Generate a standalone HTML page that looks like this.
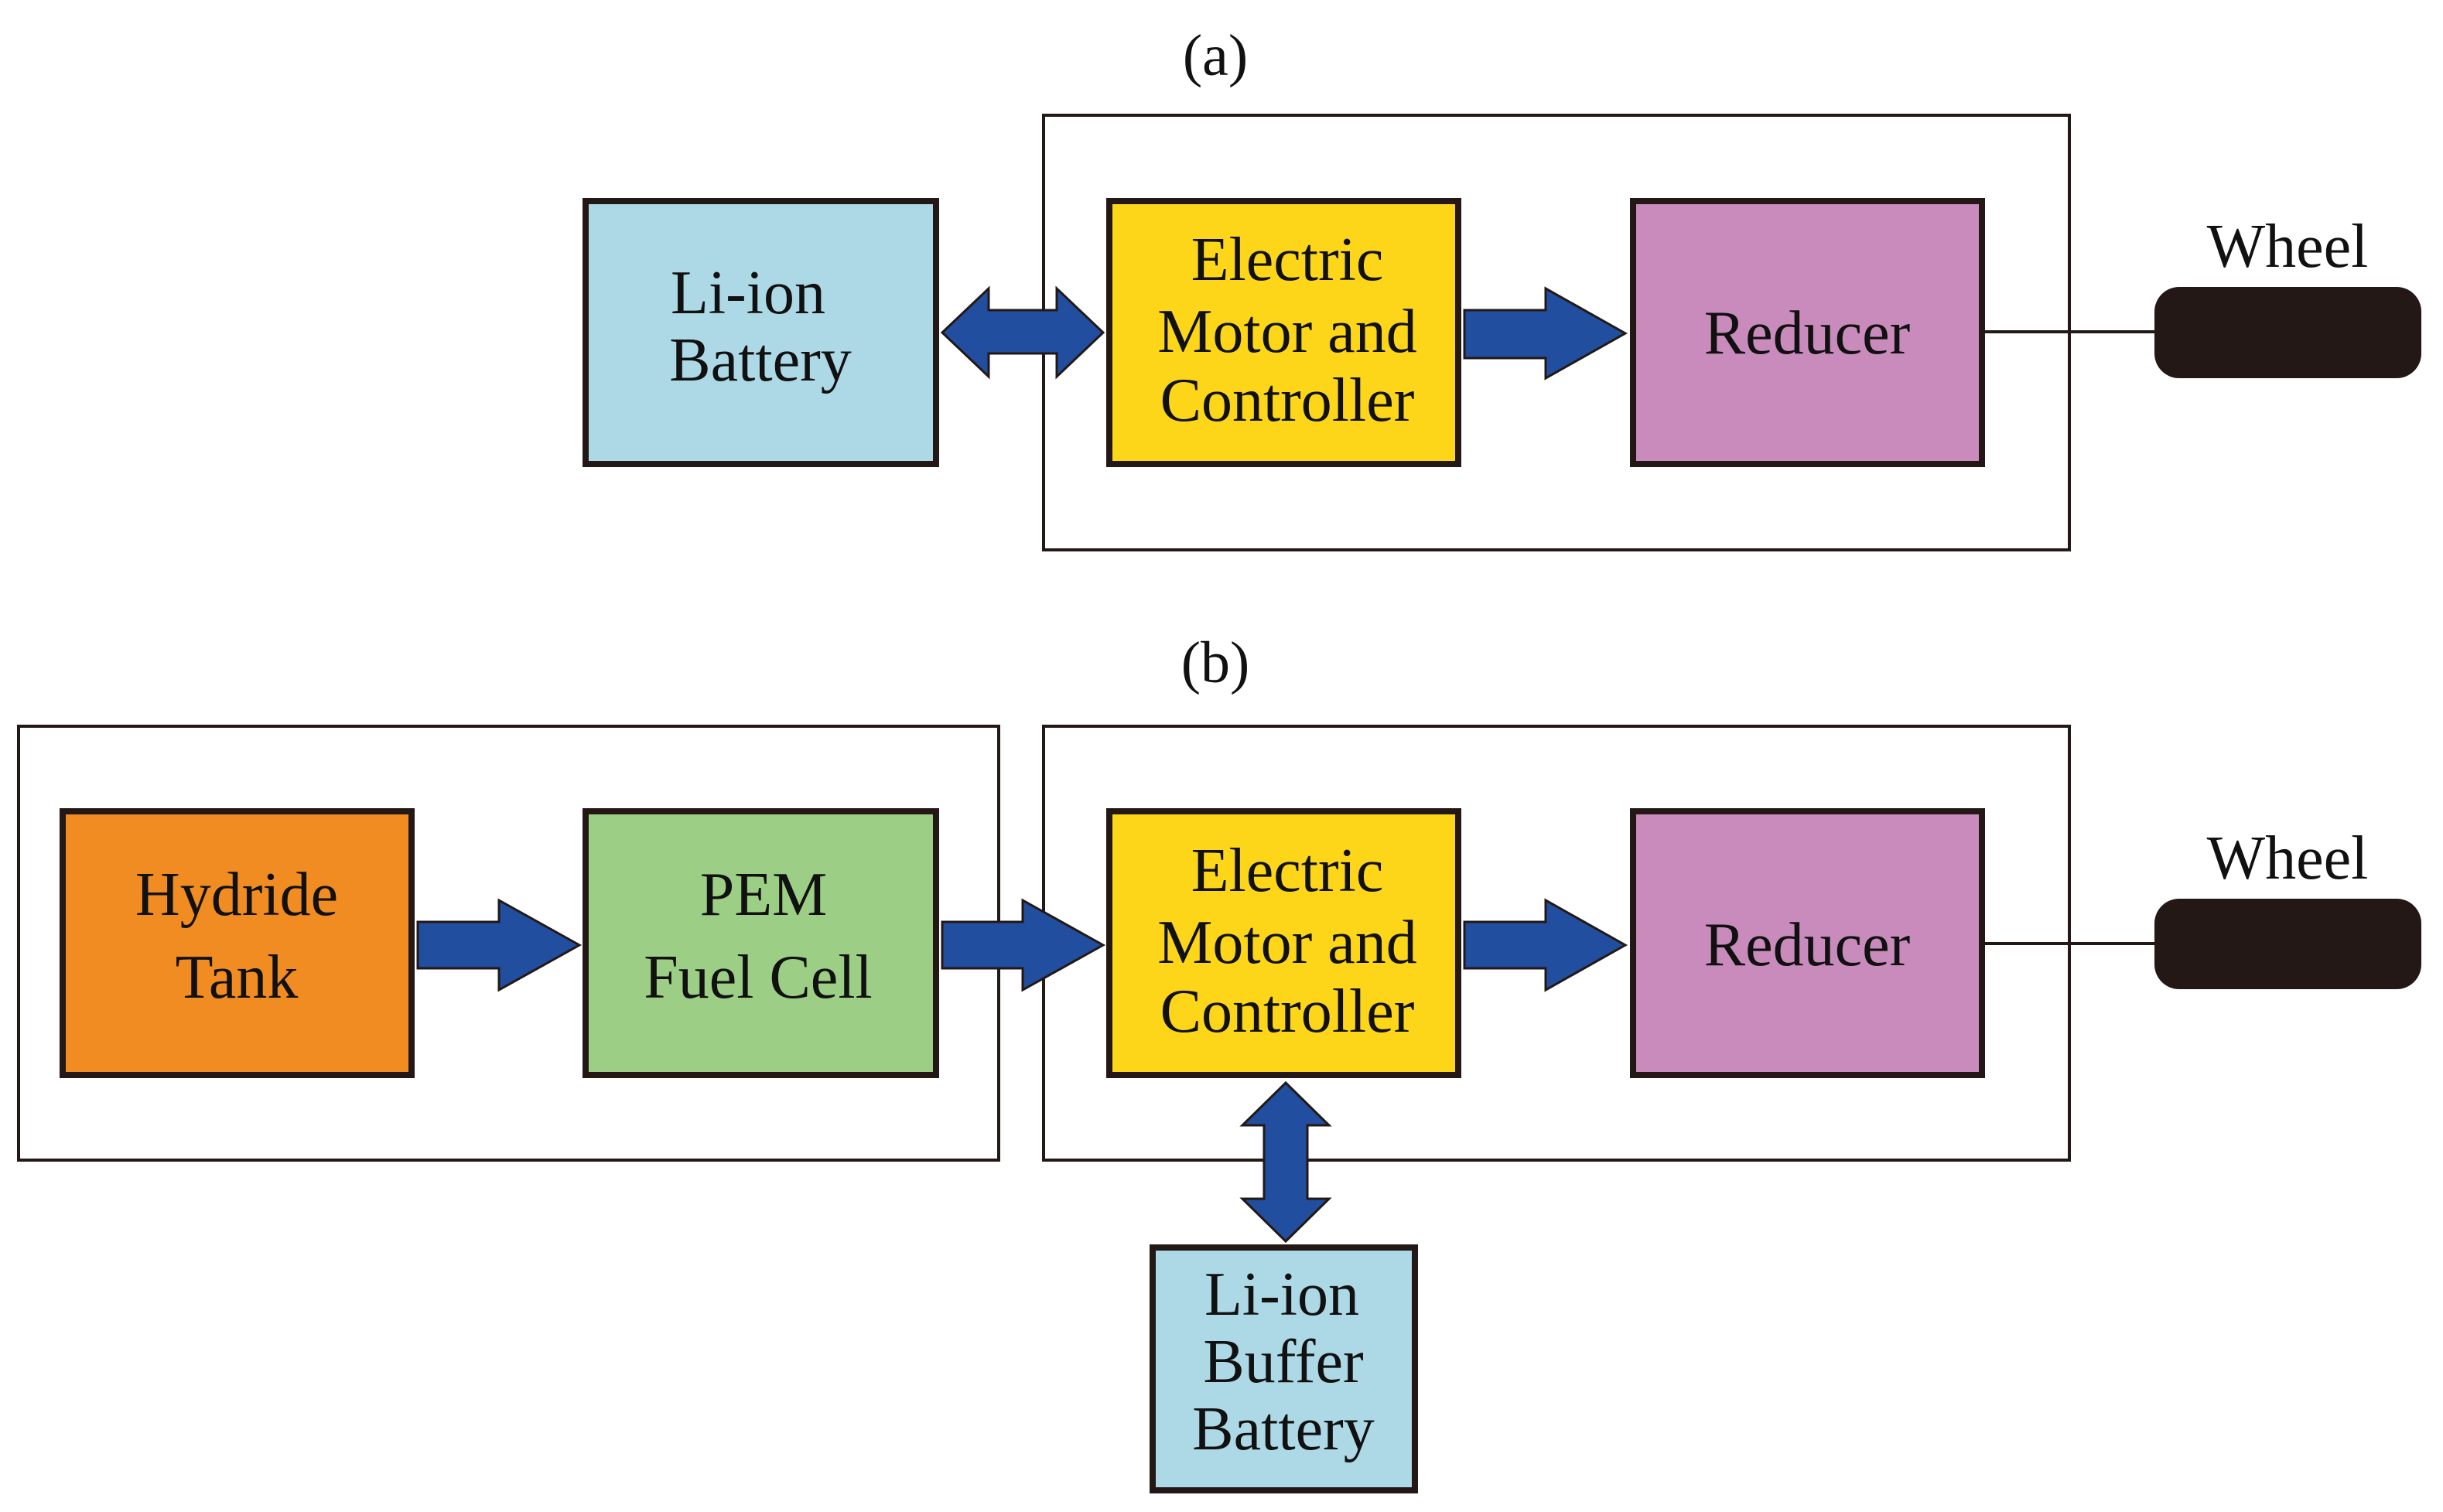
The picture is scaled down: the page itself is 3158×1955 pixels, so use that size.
<!DOCTYPE html>
<html><head><meta charset="utf-8"><style>body{margin:0;background:#fff}svg{display:block}</style></head>
<body>
<svg width="3158" height="1955" viewBox="0 0 3158 1955" xmlns="http://www.w3.org/2000/svg" font-family="Liberation Serif, serif" font-size="80" text-anchor="middle" fill="#111">
<g fill="none" stroke="#231815" stroke-width="4">
<rect x="1349" y="149" width="1326" height="562"/>
<rect x="24" y="939" width="1267" height="561"/>
<rect x="1349" y="939" width="1326" height="561"/>
</g>
<g stroke="#231815" stroke-width="4">
<line x1="2562" y1="429" x2="2790" y2="429"/>
<line x1="2562" y1="1220" x2="2790" y2="1220"/>
</g>
<g fill="#231815">
<rect x="2785" y="371" width="345" height="118" rx="32"/>
<rect x="2785" y="1162" width="345" height="117" rx="32"/>
</g>
<g stroke="#231815" stroke-width="8">
<rect x="757" y="260" width="453" height="340" fill="#add8e6"/>
<rect x="1434" y="260" width="451" height="340" fill="#fdd61a"/>
<rect x="2111" y="260" width="451" height="340" fill="#c98bbb"/>
<rect x="81" y="1049" width="451" height="341" fill="#f08c22"/>
<rect x="757" y="1049" width="453" height="341" fill="#9dce86"/>
<rect x="1434" y="1049" width="451" height="341" fill="#fdd61a"/>
<rect x="2111" y="1049" width="451" height="341" fill="#c98bbb"/>
<rect x="1490" y="1613" width="339" height="314" fill="#add8e6"/>
</g>
<g fill="#214e9f" stroke="#231815" stroke-width="3">
<polygon points="1218,430 1278,373 1278,401 1366,401 1366,373 1426,430 1366,487 1366,457 1278,457 1278,487"/>
<polygon points="1893,401 1998,401 1998,373 2101,431 1998,489 1998,463 1893,463"/>
<polygon points="540,1192 645,1192 645,1164 749,1222 645,1280 645,1252 540,1252"/>
<polygon points="1218,1192 1322,1192 1322,1164 1426,1222 1322,1280 1322,1252 1218,1252"/>
<polygon points="1893,1192 1998,1192 1998,1164 2101,1222 1998,1280 1998,1252 1893,1252"/>
<polygon points="1662,1400 1718,1455 1690,1455 1690,1550 1718,1550 1662,1605 1606,1550 1634,1550 1634,1455 1606,1455"/>
</g>
<text x="1571" y="97" font-size="76">(a)</text>
<text x="1571" y="882" font-size="76">(b)</text>
<text x="2957" y="345">Wheel</text>
<text x="2957" y="1136">Wheel</text>
<text x="967" y="405">Li-ion</text>
<text x="983" y="492">Battery</text>
<text x="1664" y="362">Electric</text>
<text x="1664" y="455">Motor and</text>
<text x="1664" y="544">Controller</text>
<text x="2336" y="457">Reducer</text>
<text x="306" y="1183">Hydride</text>
<text x="306" y="1290">Tank</text>
<text x="987" y="1183">PEM</text>
<text x="980" y="1290">Fuel Cell</text>
<text x="1664" y="1152">Electric</text>
<text x="1664" y="1245">Motor and</text>
<text x="1664" y="1334">Controller</text>
<text x="2336" y="1248">Reducer</text>
<text x="1657" y="1700">Li-ion</text>
<text x="1659" y="1787">Buffer</text>
<text x="1659" y="1874">Battery</text>
</svg>
</body></html>
